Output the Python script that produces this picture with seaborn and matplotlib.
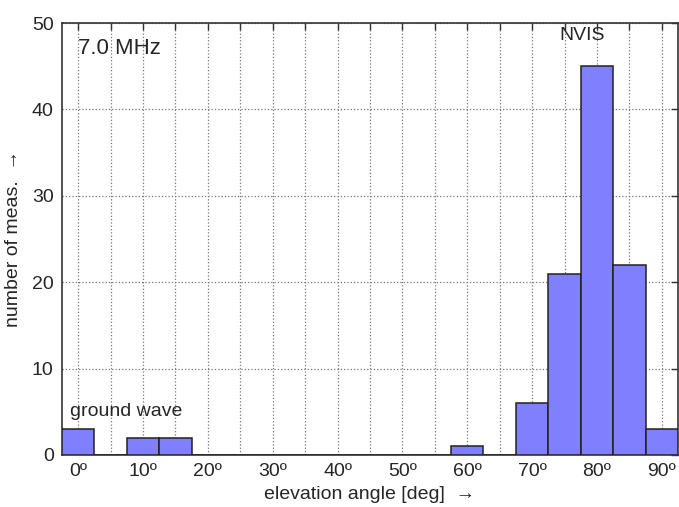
import pandas as pd
import seaborn as sns
import matplotlib.pyplot as plt
from matplotlib.ticker import MultipleLocator

# elevation angle bin centres (deg) and number of measurements
angles = [0, 10, 15, 60, 70, 75, 80, 85, 90]
counts = [3, 2, 2, 1, 6, 21, 45, 22, 3]
xtick_vals = [0, 10, 20, 30, 40, 50, 60, 70, 80, 90]
xtick_labels = [f'{v}º' for v in xtick_vals]

sns.set_style('white')
plt.rcParams['font.family'] = ['Liberation Sans', 'DejaVu Sans']

df = pd.DataFrame({'angle': angles, 'count': counts})

fig = plt.figure(figsize=(6.79, 5.07), dpi=100)
ax = fig.add_axes([0.0913, 0.1026, 0.9072, 0.852])

sns.histplot(data=df, x='angle', weights='count', binwidth=5, binrange=(-2.5, 92.5),
             color='#8080ff', alpha=1, edgecolor='#222222', linewidth=1.1, ax=ax, zorder=3)

ax.set_xlim(-2.5, 92.5)
ax.set_ylim(0, 50)
ax.xaxis.set_minor_locator(MultipleLocator(5))
ax.set_xticks(xtick_vals)
ax.set_xticklabels(xtick_labels)
ax.set_yticks([0, 10, 20, 30, 40, 50])
ax.grid(True, which='both', axis='x', linestyle=':', color='#777777', linewidth=0.9, zorder=0)
ax.grid(True, which='major', axis='y', linestyle=':', color='#777777', linewidth=0.9, zorder=0)
ax.set_axisbelow(True)
ax.tick_params(which='both', direction='in', top=True, right=True, length=5,
               width=1, color='#333333', labelsize=14, pad=6)
for s in ax.spines.values():
    s.set_color('#333333')
    s.set_linewidth(1.2)

ax.set_xlabel('elevation angle [deg]  →', fontsize=14, labelpad=4)
ax.set_ylabel('number of meas.  →', fontsize=14, labelpad=7)

ax.text(0, 47, '7.0 MHz', fontsize=16, va='center', ha='left')
ax.text(77.7, 48.6, 'NVIS', fontsize=14, va='center', ha='center')
ax.text(-1.3, 5, 'ground wave', fontsize=14, va='center', ha='left')

fig.savefig('out.png', dpi=100)
